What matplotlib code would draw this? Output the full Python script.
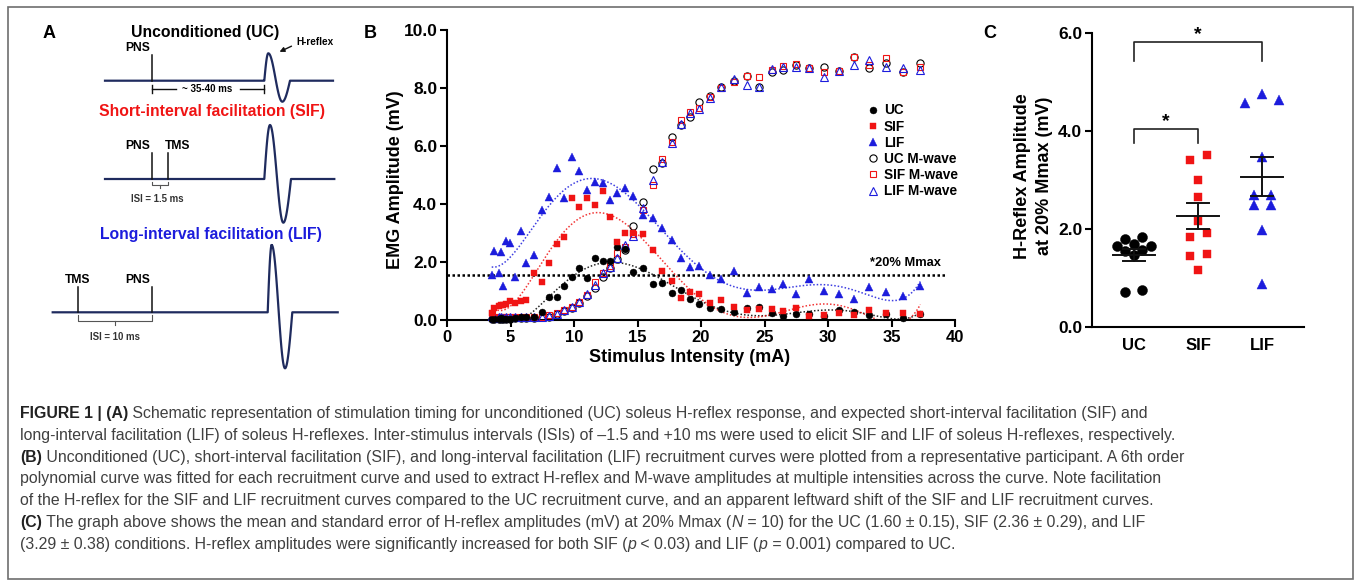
import numpy as np
import matplotlib
matplotlib.use('Agg')
import matplotlib.pyplot as plt
from matplotlib import font_manager as fm
from matplotlib.patches import Rectangle

# ---------------- data ----------------
# Panel B: recruitment curves (stimulus intensity, mA)
intensity = [3.52, 3.73, 4.07, 4.25, 4.44, 4.65, 4.96, 5.38, 5.83, 6.22,
             6.85, 7.45, 8.00, 8.63, 9.24, 9.82, 10.42, 11.05, 11.63, 12.26,
             12.83, 13.41, 14.04, 14.67, 15.41, 16.20, 16.93, 17.70, 18.40, 19.17,
             19.87, 20.71, 21.57, 22.60, 23.60, 24.57, 25.57, 26.48, 27.45, 28.48,
             29.69, 30.87, 32.05, 33.23, 34.54, 35.93, 37.27]
uc_h = [0.03, 0.05, 0.02, 0.06, 0.04, 0.05, 0.03, 0.08, 0.10, 0.12,
        0.12, 0.29, 0.78, 0.78, 1.18, 1.47, 1.78, 1.44, 2.13, 2.02,
        2.05, 2.52, 2.44, 1.67, 1.80, 1.25, 1.29, 0.92, 1.04, 0.72,
        0.54, 0.42, 0.38, 0.29, 0.40, 0.46, 0.23, 0.15, 0.21, 0.20,
        0.15, 0.34, 0.29, 0.17, 0.21, 0.06, 0.21]
sif_h = [0.23, 0.43, 0.49, 0.52, 0.53, 0.55, 0.64, 0.57, 0.64, 0.69,
         1.61, 1.30, 1.95, 2.61, 2.87, 4.22, 3.91, 4.20, 3.97, 4.46,
         3.56, 2.68, 2.99, 2.99, 2.96, 2.40, 1.68, 1.33, 0.75, 0.96,
         0.90, 0.60, 0.69, 0.46, 0.34, 0.38, 0.37, 0.32, 0.42, 0.14,
         0.17, 0.23, 0.17, 0.34, 0.23, 0.25, 0.21]
lif_h = [1.55, 2.39, 1.63, 2.36, 1.17, 2.73, 2.67, 1.49, 3.08, 1.95,
         2.25, 3.79, 4.23, 5.24, 4.19, 5.61, 5.15, 4.48, 4.77, 4.73,
         4.14, 4.39, 4.54, 4.29, 3.62, 3.51, 3.16, 2.77, 2.14, 1.84,
         1.87, 1.55, 1.41, 1.70, 0.92, 1.15, 1.06, 1.24, 0.89, 1.41,
         1.01, 0.90, 0.72, 1.13, 0.95, 0.83, 1.17]
uc_m = [0.02, 0.03, 0.03, 0.04, 0.04, 0.05, 0.05, 0.06, 0.07, 0.08,
        0.08, 0.09, 0.12, 0.20, 0.30, 0.42, 0.60, 0.82, 1.12, 1.48,
        1.80, 2.10, 2.42, 3.24, 4.08, 5.20, 5.42, 6.32, 6.72, 6.99,
        7.53, 7.72, 8.02, 8.25, 8.41, 8.05, 8.55, 8.62, 8.80, 8.70,
        8.74, 8.59, 9.08, 8.70, 8.87, 8.56, 8.85]
sif_m = [0.25, 0.12, 0.12, 0.10, 0.10, 0.11, 0.10, 0.11, 0.12, 0.12,
         0.10, 0.12, 0.16, 0.25, 0.36, 0.46, 0.62, 0.86, 1.30, 1.62,
         1.86, 2.30, 2.52, 2.97, 3.80, 4.66, 5.55, 6.15, 6.90, 7.18,
         7.30, 7.68, 8.00, 8.22, 8.41, 8.39, 8.62, 8.76, 8.82, 8.70,
         8.56, 8.59, 9.08, 8.79, 9.02, 8.56, 8.74]
lif_m = [0.15, 0.08, 0.10, 0.12, 0.08, 0.10, 0.09, 0.10, 0.10, 0.12,
         0.10, 0.10, 0.14, 0.22, 0.33, 0.45, 0.62, 0.90, 1.20, 1.62,
         1.84, 2.15, 2.58, 2.90, 3.85, 4.83, 5.44, 6.09, 6.76, 7.13,
         7.26, 7.66, 8.02, 8.30, 8.10, 8.05, 8.64, 8.71, 8.71, 8.70,
         8.39, 8.59, 8.79, 8.97, 8.74, 8.68, 8.62]
mmax20_level = 1.55
mmax20_span = [0.0, 39.3]
poly_order = 6

# Panel C: H-reflex amplitude at 20% Mmax (mV), N = 10
groups = ['UC', 'SIF', 'LIF']
uc_c = [1.79, 1.83, 1.66, 1.70, 1.66, 1.58, 1.56, 1.46, 0.75, 0.72]
sif_c = [3.51, 3.41, 3.01, 2.65, 2.17, 1.92, 1.84, 1.50, 1.45, 1.17]
lif_c = [4.64, 4.76, 4.58, 3.46, 2.70, 2.70, 2.50, 2.50, 1.98, 0.87]
sig_pairs = [(0, 1, 4.04), (0, 2, 5.82)]

# ---------------- style ----------------
W, H, DPI = 1357, 585, 100
BLACK, RED, BLUE, NAVY = '#000000', '#f01414', '#1c1cdc', '#1f2b5e'
SANS = 'Liberation Sans'
avail = {f.name for f in fm.fontManager.ttflist}
CAPFONT = 'Liberation Sans Narrow' if 'Liberation Sans Narrow' in avail else SANS
plt.rcParams['font.family'] = [SANS, 'DejaVu Sans']
plt.rcParams['font.weight'] = 'bold'

fig = plt.figure(figsize=(W / DPI, H / DPI), dpi=DPI)
fig.patch.set_facecolor('white')


def fx(px):
    return px / W


def fy(py):
    return 1 - py / H


ov = fig.add_axes([0, 0, 1, 1], zorder=0)
ov.set_xlim(0, W)
ov.set_ylim(H, 0)
ov.axis('off')
ov.add_patch(Rectangle((8, 7), 1345, 572, fill=False, ec='#6e6e6e', lw=1.2))

# ---------------- Panel A (schematic) ----------------
ov.text(49, 33, 'A', fontsize=13, fontweight='bold', ha='center', va='center')


def wave_path(x0, xp, yp, xt, yt, xe, base):
    t = np.linspace(0, 1, 30)
    xs1 = x0 + (xp - x0) * t
    ys1 = base + (yp - base) * np.sin(np.pi / 2 * t)
    mid, amp = (yp + yt) / 2, (yp - yt) / 2
    xs2 = xp + (xt - xp) * t
    ys2 = mid + amp * np.cos(np.pi * t)
    xs3 = xt + (xe - xt) * t
    ys3 = base + (yt - base) * np.cos(np.pi / 2 * t)
    return np.r_[xs1, xs2, xs3], np.r_[ys1, ys2, ys3]


def trace(xstart, xend, base, w):
    x0, xp, yp, xt, yt, xe = w
    wx, wy = wave_path(x0, xp, yp, xt, yt, xe, base)
    xs = np.r_[xstart, wx, xend]
    ys = np.r_[base, wy, base]
    ov.plot(xs, ys, color=NAVY, lw=1.6, solid_joinstyle='round')


def stim(x, ytop, base, label, lx, ha='center'):
    ov.plot([x, x], [ytop, base], color='#111111', lw=1.1)
    ov.text(lx, ytop - 7, label, fontsize=8.7, fontweight='bold', ha=ha, va='center')


def curly(xa, xb, ytop, ybar, ytip, color='#555555'):
    xm = (xa + xb) / 2
    ov.plot([xa, xa, xb, xb], [ytop, ybar, ybar, ytop], color=color, lw=0.8)
    ov.plot([xm, xm], [ybar, ytip], color=color, lw=0.8)


# UC
ov.text(205, 33, 'Unconditioned (UC)', fontsize=11.3, fontweight='bold', ha='center', va='center')
trace(105, 333, 80.7, (264.3, 268.3, 53.3, 282.3, 101.7, 290))
stim(152.3, 55, 80.7, 'PNS', 137.5)
ov.plot([152.3, 175.5], [89.3, 89.3], color='#111111', lw=1.0)
ov.plot([240, 264.3], [89.3, 89.3], color='#111111', lw=1.0)
ov.plot([152.3, 152.3], [85.3, 93.3], color='#111111', lw=1.0)
ov.plot([264.3, 264.3], [85.3, 93.3], color='#111111', lw=1.0)
ov.text(207.5, 89.5, '~ 35-40 ms', fontsize=7, fontweight='bold', ha='center', va='center')
ov.text(315, 42.3, 'H-reflex', fontsize=7.2, fontweight='bold', ha='center', va='center')
ov.annotate('', xy=(277, 53), xytext=(294, 45),
            arrowprops=dict(arrowstyle='-|>', color='#111111', lw=1.0, mutation_scale=7))

# SIF
ov.text(212, 111.7, 'Short-interval facilitation (SIF)', fontsize=11.3, fontweight='bold',
        color=RED, ha='center', va='center')
trace(105, 334.3, 179, (264.3, 270, 125, 283.3, 222.7, 291))
stim(151.7, 152.7, 179, 'PNS', 137.5)
stim(168.3, 152.7, 179, 'TMS', 177.5)
curly(151.7, 168.3, 181.5, 184.7, 188)
ov.text(157, 199, 'ISI = 1.5 ms', fontsize=6.9, fontweight='bold', color='#333333',
        ha='center', va='center')

# LIF
ov.text(211, 235, 'Long-interval facilitation (LIF)', fontsize=11.3, fontweight='bold',
        color=BLUE, ha='center', va='center')
trace(52.7, 337.7, 312.3, (267.7, 271.7, 245, 285, 368.3, 292.3))
stim(77.7, 286.7, 312.3, 'TMS', 77.8)
stim(152.3, 286.7, 312.3, 'PNS', 137.7)
curly(77.7, 152.3, 315, 320.7, 325)
ov.text(115.3, 337.3, 'ISI = 10 ms', fontsize=6.9, fontweight='bold', color='#333333',
        ha='center', va='center')

# ---------------- Panel B ----------------
axB = fig.add_axes([fx(447), fy(320), fx(955) - fx(447), fy(30) - fy(320)], zorder=2)
axB.set_facecolor('none')
ov.text(370, 33, 'B', fontsize=13, fontweight='bold', ha='center', va='center')
xi = np.asarray(intensity)

series_h = [('UC', uc_h, 'o', BLACK, 5.0), ('SIF', sif_h, 's', RED, 4.6), ('LIF', lif_h, '^', BLUE, 5.4)]
series_m = [('UC M-wave', uc_m, 'o', BLACK, 5.2), ('SIF M-wave', sif_m, 's', RED, 5.0),
            ('LIF M-wave', lif_m, '^', BLUE, 5.6)]
handles = []
for lab, ys, mk, col, ms in series_m:
    h, = axB.plot(xi, ys, ls='none', marker=mk, ms=ms, mfc='none', mec=col, mew=0.8,
                  clip_on=False, zorder=3, label=lab)
    handles.append(h)
hh = []
for lab, ys, mk, col, ms in series_h:
    h, = axB.plot(xi, ys, ls='none', marker=mk, ms=ms, mfc=col, mec=col, mew=0.3,
                  clip_on=False, zorder=4, label=lab)
    hh.append(h)
    p = np.polynomial.Polynomial.fit(xi, ys, poly_order)
    xx = np.linspace(xi.min(), xi.max(), 400)
    axB.plot(xx, p(xx), ls=(0, (1.0, 1.3)), color=col, lw=1.1, alpha=0.85, zorder=2)
handles = hh + handles

axB.plot(mmax20_span, [mmax20_level] * 2, ls=(0, (1, 1)), color=BLACK, lw=1.8, zorder=1,
         clip_on=False)
axB.text(38.9, 1.95, '*20% Mmax', fontsize=9.3, fontweight='bold', ha='right', va='center')

axB.set_xlim(0, 40)
axB.set_ylim(0, 10)
axB.set_xticks(np.arange(0, 41, 5))
axB.set_yticks(np.arange(0, 11, 2))
axB.set_yticklabels([f'{v:.1f}' for v in np.arange(0, 11, 2)])
for s in ['top', 'right']:
    axB.spines[s].set_visible(False)
for s in ['left', 'bottom']:
    axB.spines[s].set_linewidth(1.5)
axB.tick_params(direction='out', length=5, width=1.5, pad=2)
axB.tick_params(axis='x', labelsize=12)
axB.tick_params(axis='y', labelsize=12.5)
for lbl in axB.get_xticklabels() + axB.get_yticklabels():
    lbl.set_fontweight('bold')
axB.set_xlabel('Stimulus Intensity (mA)', fontsize=13, fontweight='bold', va='center')
axB.xaxis.set_label_coords((690 - 447) / 508, (320 - 357) / 290)
axB.set_ylabel('EMG Amplitude (mV)', fontsize=13, fontweight='bold', va='center')
axB.yaxis.set_label_coords((396 - 447) / 508, (320 - 180) / 290)
axB.legend(handles, [h.get_label() for h in handles], loc='upper left',
           bbox_to_anchor=(fx(868), fy(103.5)), bbox_transform=fig.transFigure,
           frameon=False, handlelength=0.8, handletextpad=0.35, labelspacing=0.16,
           borderpad=0, borderaxespad=0, numpoints=1,
           prop=dict(weight='bold', size=9.8, family=SANS))

# ---------------- Panel C ----------------
axC = fig.add_axes([fx(1092), fy(327), fx(1304) - fx(1092), fy(33) - fy(327)], zorder=2)
axC.set_facecolor('none')
ov.text(990, 33, 'C', fontsize=13, fontweight='bold', ha='center', va='center')
axC.set_xlim(-0.656, 2.656)
axC.set_ylim(0, 6)
px_per_cat = (1304 - 1092) / (2.656 + 0.656)
row_sp = 17.0


def row_offsets(vals, thr):
    vals = np.asarray(vals, float)
    order = np.argsort(-vals, kind='stable')
    rows, cur, start = [], [], None
    for i in order:
        if cur and start - vals[i] <= thr:
            cur.append(i)
        else:
            if cur:
                rows.append(cur)
            cur, start = [i], vals[i]
    rows.append(cur)
    offs = np.zeros(len(vals))
    for row in rows:
        n = len(row)
        pos = sorted([k - (n - 1) / 2 for k in range(n)], key=lambda p: (abs(p), -p))
        for i, p in zip(row, pos):
            offs[i] = p * row_sp / px_per_cat
    return offs


cdata = [(uc_c, 'o', BLACK, 7.2, 0.115), (sif_c, 's', RED, 6.4, 0.115), (lif_c, '^', BLUE, 6.6, 0.19)]
for gi, (vals, mk, col, ms, thr) in enumerate(cdata):
    offs = row_offsets(vals, thr)
    axC.plot(gi + offs, vals, ls='none', marker=mk, ms=ms, mfc=col, mec=col, mew=0.3,
             clip_on=False, zorder=3)
    v = np.asarray(vals)
    m = v.mean()
    se = v.std(ddof=1) / np.sqrt(len(v))
    axC.plot([gi - 0.33, gi + 0.33], [m, m], color='#111111', lw=1.4, zorder=4)
    axC.plot([gi, gi], [m - se, m + se], color='#111111', lw=1.4, zorder=4)
    for yy in (m - se, m + se):
        axC.plot([gi - 0.17, gi + 0.17], [yy, yy], color='#111111', lw=1.4, zorder=4)

for a, b, yb in sig_pairs:
    drop = 0.29 if b == 1 else 0.40
    axC.plot([a, a, b, b], [yb - drop, yb, yb, yb - drop], color='#222222', lw=1.2,
             clip_on=False)
    axC.text((a + b) / 2, yb + 0.15, '*', fontsize=14, fontweight='bold', ha='center',
             va='center')

axC.set_xticks(range(3))
axC.set_xticklabels(groups, fontsize=12, fontweight='bold')
axC.set_yticks([0, 2, 4, 6])
axC.set_yticklabels(['0.0', '2.0', '4.0', '6.0'], fontsize=12.5, fontweight='bold')
for s in ['top', 'right']:
    axC.spines[s].set_visible(False)
for s in ['left', 'bottom']:
    axC.spines[s].set_linewidth(1.5)
axC.tick_params(axis='y', direction='out', length=5, width=1.5, pad=2)
axC.tick_params(axis='x', length=0, pad=8)
axC.set_ylabel('H-Reflex Amplitude\nat 20% Mmax (mV)', fontsize=13, fontweight='bold',
               va='center', linespacing=1.4)
axC.yaxis.set_label_coords((1033.5 - 1092) / 212, (327 - 176) / 294)

# ---------------- Caption ----------------
renderer = fig.canvas.get_renderer()
CAPCOL, CAPBOLD = '#404040', '#222222'
caption = [
    [("FIGURE 1 | (A)", 'bold', 'normal'),
     (" Schematic representation of stimulation timing for unconditioned (UC) soleus H-reflex "
      "response, and expected short-interval facilitation (SIF) and", 'normal', 'normal')],
    [("long-interval facilitation (LIF) of soleus H-reflexes. Inter-stimulus intervals (ISIs) of "
      "\u20131.5 and +10 ms were used to elicit SIF and LIF of soleus H-reflexes, respectively.",
      'normal', 'normal')],
    [("(B)", 'bold', 'normal'),
     (" Unconditioned (UC), short-interval facilitation (SIF), and long-interval facilitation "
      "(LIF) recruitment curves were plotted from a representative participant. A 6th order",
      'normal', 'normal')],
    [("polynomial curve was fitted for each recruitment curve and used to extract H-reflex and "
      "M-wave amplitudes at multiple intensities across the curve. Note facilitation",
      'normal', 'normal')],
    [("of the H-reflex for the SIF and LIF recruitment curves compared to the UC recruitment "
      "curve, and an apparent leftward shift of the SIF and LIF recruitment curves.",
      'normal', 'normal')],
    [("(C)", 'bold', 'normal'),
     (" The graph above shows the mean and standard error of H-reflex amplitudes (mV) at 20% "
      "Mmax (", 'normal', 'normal'), ("N", 'normal', 'italic'),
     (" = 10) for the UC (1.60 \u00b1 0.15), SIF (2.36 \u00b1 0.29), and LIF", 'normal', 'normal')],
    [("(3.29 \u00b1 0.38) conditions. H-reflex amplitudes were significantly increased for both "
      "SIF (", 'normal', 'normal'), ("p", 'normal', 'italic'),
     (" < 0.03) and LIF (", 'normal', 'normal'), ("p", 'normal', 'italic'),
     (" = 0.001) compared to UC.", 'normal', 'normal')],
]


def advance(s, size, weight, style):
    kw = dict(fontsize=size, fontweight=weight, fontstyle=style, family=[CAPFONT, 'DejaVu Sans'])
    t1 = fig.text(0, 0, 'I' + s + 'I', **kw)
    t0 = fig.text(0, 0, 'II', **kw)
    w = t1.get_window_extent(renderer).width - t0.get_window_extent(renderer).width
    t1.remove()
    t0.remove()
    return w


ref = sum(advance(s, 10, w, st) for s, w, st in caption[2])
cap_size = 10 * (1188 - 20) / ref
baselines = [418, 440, 462, 483.5, 505, 527, 548.5]
for line, yb in zip(caption, baselines):
    x = 20.0
    for s, w, st in line:
        fig.text(fx(x), fy(yb), s, fontsize=cap_size, fontweight=w, fontstyle=st,
                 family=[CAPFONT, 'DejaVu Sans'], color=CAPBOLD if w == 'bold' else CAPCOL,
                 ha='left', va='baseline')
        x += advance(s, cap_size, w, st)

fig.savefig('out.png', dpi=DPI, facecolor='white')
